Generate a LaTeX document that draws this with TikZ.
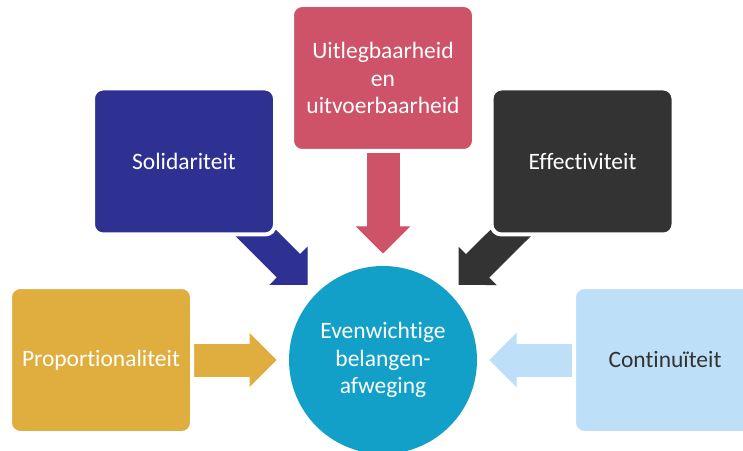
\documentclass[tikz,border=0pt]{standalone}
\usepackage{fontspec}
\setmainfont[Ligatures=NoCommon]{Carlito}
\usetikzlibrary{arrows.meta}
\pgfdeclarelayer{back}
\pgfsetlayers{back,main}

\definecolor{goud}{HTML}{DFAE3F}
\definecolor{paars}{HTML}{2E3192}
\definecolor{roze}{HTML}{CE5268}
\definecolor{donker}{HTML}{333333}
\definecolor{licht}{HTML}{BDDFF7}
\definecolor{kern}{HTML}{12A0C8}

\def\sc{1pt}

\tikzset{
  blok/.style={rectangle, rounded corners=10pt, draw=white, line width=4pt,
    minimum width=182pt, minimum height=146pt, inner sep=0pt, outer sep=0pt,
    align=center, text=white, font=\fontsize{23.5}{27.5}\selectfont},
  pijl/.style={line width=33pt, shorten >=12.5pt,
    -{Triangle[width=54pt,length=27pt,line width=1pt]}}
}

\begin{document}
\begin{tikzpicture}[x=\sc,y=\sc]
\useasboundingbox (0,0) rectangle (743,450);
% centre circle
\node (centre) [circle, fill=kern, minimum size=188pt, inner sep=0pt, outer sep=0pt,
  align=center, text=white, font=\fontsize{23.5}{27.5}\selectfont]
  at (383,90) {Evenwichtige\\belangen-\\afweging};
% the five values round it
\node (prop) [blok, fill=goud] at (101,90) {Proportionaliteit};
\node (soli) [blok, fill=paars] at (184,288.5) {Solidariteit};
\node (uitleg) [blok, fill=roze] at (383,372) {Uitlegbaarheid\\en\\uitvoerbaarheid};
\node (effect) [blok, fill=donker] at (582.5,288.5) {Effectiviteit};
\node (cont) [blok, fill=licht, text=donker] at (665,90) {Continuïteit};
% block arrows start under the boxes, the white rim cuts them off
\begin{pgfonlayer}{back}
\draw [pijl, goud] (prop.center) -- (centre);
\draw [pijl, paars] (soli.center) -- (centre);
\draw [pijl, roze] (uitleg.center) -- (centre);
\draw [pijl, donker] (effect.center) -- (centre);
\draw [pijl, licht] (cont.center) -- (centre);
\end{pgfonlayer}
\end{tikzpicture}
\end{document}
